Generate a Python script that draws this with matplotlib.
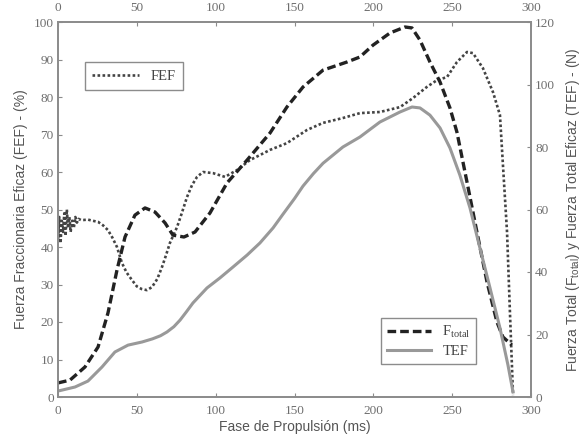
import matplotlib
matplotlib.use("Agg")
import matplotlib.pyplot as plt

# ---- data ----
# FEF (%) - left axis
fef_t = [0, 0.8, 1.6, 2.4, 3.2, 4.0, 4.8, 5.6, 6.4, 7.2, 8.0, 9.0, 10.0, 11.0, 12.0, 13.0,
         14.5, 16.0, 19.0, 22.0, 25.4, 28.5, 31.7, 34.5, 37.4,
         40.6, 43.5, 46.9, 50.0, 53.0, 56.4, 59.6, 63.0, 66.0, 68.5, 71.0, 75.5, 78.5, 81.8,
         85.0, 88.2, 92.0, 98.3, 105.9, 113.5, 121.8, 128.0, 134.5, 145.2, 157.9, 168.1, 180.7,
         191.5, 204.2, 216.9, 225.1, 234.0, 240.4, 246.7, 253.0, 259.4, 263.2, 269.5, 275.9,
         280.3, 282.2, 284.8, 286.7, 287.9, 288.6]
fef_v = [42, 48, 41, 47, 44, 49, 43, 50, 45, 48, 44, 47, 45, 48, 46.5, 47.5,
         47.2, 47.2, 47.3, 47.0, 46.7, 45.8, 44.5, 42.5, 40.0,
         35.7, 33.2, 31.2, 29.5, 28.8, 28.5, 29.3, 31.5, 34.7, 37.8, 41.1, 45.3, 49.0, 53.3,
         56.5, 58.7, 60.0, 59.7, 58.7, 60.5, 63.2, 64.5, 65.9, 67.7, 71.2, 73.1, 74.4,
         75.7, 76.0, 77.3, 79.7, 82.7, 84.5, 85.3, 89.3, 92.0, 91.7, 87.7, 81.3,
         75.2, 61.9, 44.0, 21.9, 8.5, 0.5]

# Total force F_total (N) - right axis
ftot_t = [0, 7.6, 17.1, 25.4, 31.7, 37.4, 42.5, 48.8, 55.2, 61.5, 67.9, 72.9, 79.9, 86.9,
          96.4, 107.2, 119.9, 134.5, 145.2, 155.4, 168.1, 183.3, 191.5, 199.8, 210.6, 220.1,
          224.5, 229.6, 235.9, 242.3, 248.6, 253.0, 259.4, 265.7, 272.1, 278.4, 282.2, 287.9]
ftot_v = [4.5, 5.4, 9.6, 16.0, 26.9, 40.6, 51.2, 58.2, 60.5, 59.2, 55.7, 51.8, 51.2, 52.8,
          58.9, 68.5, 75.8, 84.5, 92.8, 99.2, 104.6, 107.2, 108.8, 112.6, 116.5, 118.4,
          118.1, 114.2, 107.2, 100.8, 92.5, 84.8, 68.8, 52.8, 36.8, 24.0, 19.2, 16.6]

# Effective total force TEF (N) - right axis
tef_t = [0, 10.8, 19.0, 27.9, 36.1, 44.4, 53.3, 59.9, 65.0, 69.1, 73.5, 77.4, 81.5, 85.6,
         94.5, 102.7, 111.0, 119.9, 128.1, 136.4, 142.7, 150.0, 155.4, 162.0, 168.1, 180.7,
         191.5, 204.2, 216.9, 224.5, 229.6, 235.9, 242.3, 248.6, 254.9, 261.3, 267.6, 274.0,
         280.3, 285.4, 288.6]
tef_v = [1.9, 3.2, 5.1, 9.6, 14.4, 16.6, 17.6, 18.6, 19.6, 20.8, 22.5, 24.6, 27.3, 30.1,
         34.9, 38.1, 41.6, 45.4, 49.3, 54.1, 58.5, 63.5, 67.5, 71.5, 74.8, 80.0,
         83.2, 88.0, 91.2, 92.8, 92.5, 90.2, 86.1, 79.7, 71.0, 60.5, 47.7, 34.9,
         22.1, 10.2, 1.6]

x_ticks = [0, 50, 100, 150, 200, 250, 300]
left_ticks = [0, 10, 20, 30, 40, 50, 60, 70, 80, 90, 100]
right_ticks = [0, 20, 40, 60, 80, 100, 120]

# ---- styling ----
GRAY = "#8c8c8c"
TICKC = "#6e6e6e"
serif = "Liberation Serif"
sans = "Liberation Sans"

fig = plt.figure(figsize=(5.84, 4.41), dpi=100)
ax = fig.add_axes([58 / 584, 1 - 397 / 441, (531 - 58) / 584, (397 - 22) / 441])
ax2 = ax.twinx()

l_fef, = ax.plot(fef_t, fef_v, color="#444444", lw=1.9, linestyle=(0, (1, 0.9)), label="FEF")
l_ft, = ax2.plot(ftot_t, ftot_v, color="#222222", lw=2.4, linestyle=(0, (2.6, 1.2)),
                 label=r"F$_{\mathregular{total}}$")
l_tef, = ax2.plot(tef_t, tef_v, color="#999999", lw=2.2, linestyle="-", label="TEF")

ax.set_xlim(0, 300)
ax.set_ylim(0, 100)
ax2.set_ylim(0, 120)
ax.set_xticks(x_ticks)
ax.set_yticks(left_ticks)
ax2.set_yticks(right_ticks)

for a in (ax, ax2):
    for s in a.spines.values():
        s.set_color(GRAY)
        s.set_linewidth(1.3)
    a.tick_params(direction="in", length=3, width=0.8, color=GRAY, labelcolor=TICKC,
                  labelsize=9.5, pad=3)
    for lab in a.get_xticklabels() + a.get_yticklabels():
        lab.set_fontfamily(serif)

ax.tick_params(axis="x", top=True, labeltop=True)
ax.tick_params(axis="x", which="major", bottom=True, pad=6)
for t in ax.xaxis.get_major_ticks():
    t.label1.set_fontfamily(serif)
    t.label2.set_fontfamily(serif)
for t in ax2.yaxis.get_major_ticks():
    t.label2.set_fontfamily(serif)

ax.set_xlabel("Fase de Propulsión (ms)", fontfamily=sans, fontsize=10, color="#555555", labelpad=2)
ax.set_ylabel("Fuerza Fraccionaria Eficaz (FEF) - (%)", fontfamily=sans, fontsize=10,
              color="#555555", labelpad=4)
ax2.set_ylabel(r"Fuerza Total (F$_{\mathregular{total}}$) y Fuerza Total Eficaz (TEF) - (N)",
               fontfamily=sans, fontsize=10, color="#555555", rotation=90, labelpad=6)

leg1 = ax.legend(handles=[l_fef], loc="upper left", bbox_to_anchor=(0.057, 0.893),
                 prop={"family": serif, "size": 10.5}, fancybox=False, framealpha=1,
                 edgecolor=GRAY, handlelength=3.2, borderpad=0.5, borderaxespad=0)
leg1.get_frame().set_linewidth(1.0)
for t in leg1.get_texts():
    t.set_color("#444444")

leg2 = ax2.legend(handles=[l_ft, l_tef], loc="upper left", bbox_to_anchor=(0.683, 0.211),
                  prop={"family": serif, "size": 10.5}, fancybox=False, framealpha=1,
                  edgecolor=GRAY, handlelength=3.0, borderpad=0.4, borderaxespad=0,
                  labelspacing=0.3)
leg2.get_frame().set_linewidth(1.0)
for t in leg2.get_texts():
    t.set_color("#444444")

fig.savefig("out.png", dpi=100)
